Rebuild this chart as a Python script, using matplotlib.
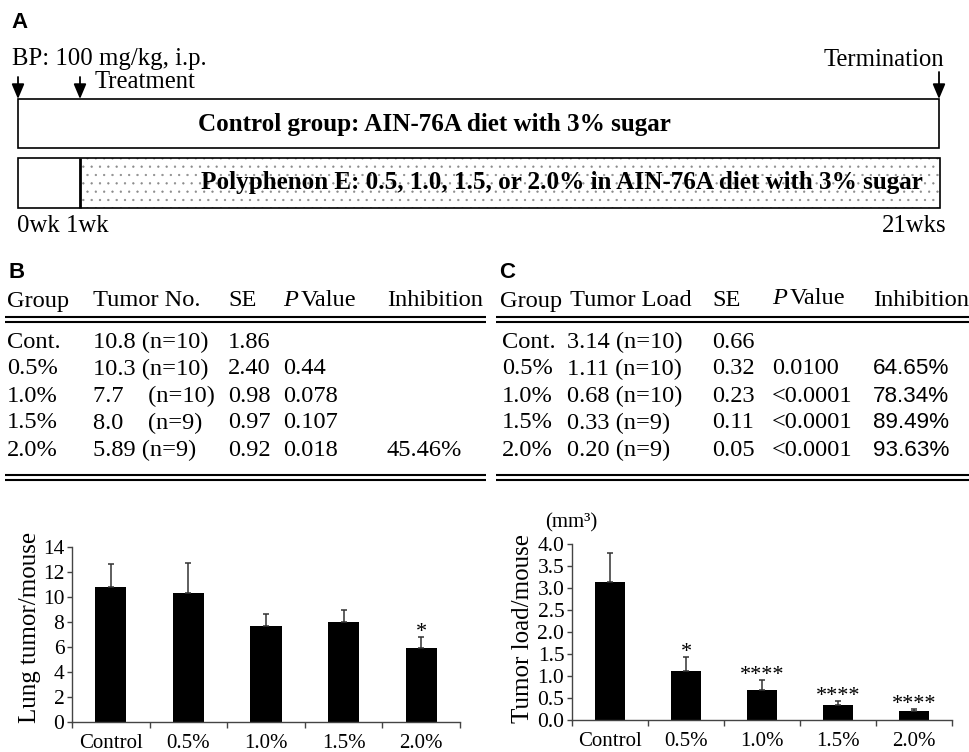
import numpy as np
import matplotlib
matplotlib.use("Agg")
import matplotlib.pyplot as plt
from matplotlib.patches import Rectangle

SERIF = "Liberation Serif"
SANS = "Liberation Sans"

# ---------------- data ----------------
groups = ["Cont.", "0.5%", "1.0%", "1.5%", "2.0%"]
categories = ["Control", "0.5%", "1.0%", "1.5%", "2.0%"]

tumor_no = [10.8, 10.3, 7.7, 8.0, 5.89]
tumor_no_se = [1.86, 2.40, 0.98, 0.97, 0.92]
tumor_no_n = [10, 10, 10, 9, 9]
tumor_no_p = ["", "0.44", "0.078", "0.107", "0.018"]
tumor_no_inhib = ["", "", "", "", "45.46%"]
tumor_no_sig = ["", "", "", "", "*"]

tumor_load = [3.14, 1.11, 0.68, 0.33, 0.20]
tumor_load_se = [0.66, 0.32, 0.23, 0.11, 0.05]
tumor_load_n = [10, 10, 10, 9, 9]
tumor_load_p = ["", "0.0100", "<0.0001", "<0.0001", "<0.0001"]
tumor_load_inhib = ["", "64.65%", "78.34%", "89.49%", "93.63%"]
tumor_load_sig = ["", "*", "****", "****", "****"]

tumor_no_yticks = [0, 2, 4, 6, 8, 10, 12, 14]
tumor_load_yticks = [0.0, 0.5, 1.0, 1.5, 2.0, 2.5, 3.0, 3.5, 4.0]

header_B = ["Group", "Tumor No.", "SE", "P", "Value", "Inhibition"]
header_C = ["Group", "Tumor Load", "SE", "P", "Value", "Inhibition"]

control_text = "Control group: AIN-76A diet with 3% sugar"
treat_text = "Polyphenon E: 0.5, 1.0, 1.5, or 2.0% in AIN-76A diet with 3% sugar"

# ---------------- figure ----------------
plt.rcParams["hatch.linewidth"] = 0.4
W, H = 970, 752
fig = plt.figure(figsize=(W / 100, H / 100), dpi=100)
ov = fig.add_axes([0, 0, 1, 1])
ov.set_xlim(0, W)
ov.set_ylim(H, 0)
ov.axis("off")

FS = 17.8   # panel A text
TFS = 17.6  # table text


def panel_letter(x, y, s):
    ov.text(x, y, s, family=SANS, weight="bold", fontsize=16, ha="left", va="center")


# ---------- Panel A ----------
panel_letter(11, 22, "A")
ov.text(12, 59, "BP: 100 mg/kg, i.p.", family=SERIF, fontsize=FS, ha="left", va="center")
ov.text(95, 82, "Treatment", family=SERIF, fontsize=FS, ha="left", va="center")
ov.text(944, 60, "Termination", family=SERIF, fontsize=FS, ha="right", va="center")

arrow_kw = dict(arrowstyle="-|>,head_length=0.9,head_width=0.38", color="black",
                lw=1.3, shrinkA=0, shrinkB=0)
ov.annotate("", xy=(18, 99), xytext=(18, 77), arrowprops=arrow_kw)
ov.annotate("", xy=(80, 99), xytext=(80, 77), arrowprops=arrow_kw)
ov.annotate("", xy=(939, 99), xytext=(939, 72), arrowprops=arrow_kw)

# control box
ov.add_patch(Rectangle((18, 99), 921, 49, fill=False, edgecolor="black", lw=1.2))
ov.text(434, 124, control_text, family=SERIF, weight="bold", fontsize=18.1,
        ha="center", va="center")

# treatment box
ov.add_patch(Rectangle((80, 158), 860, 50, facecolor="white", edgecolor="#8a8a8a",
                       lw=0, hatch=".."))
ov.add_patch(Rectangle((18, 158), 922, 50, fill=False, edgecolor="black", lw=1.2))
ov.plot([80, 80], [158, 208], color="black", lw=2.0, solid_capstyle="butt")
ov.text(562, 183, treat_text, family=SERIF, weight="bold", fontsize=18.1,
        ha="center", va="center")

ov.text(17, 226, "0wk 1wk", family=SERIF, fontsize=FS, ha="left", va="center")
ov.text(947, 226, "21wks", family=SERIF, fontsize=FS, ha="right", va="center")

# ---------- Tables ----------
row_y0, row_step = 342, 27
hdr_y = 301


def draw_table(x0, x1, hcols, cols, header, values, ns, ses, ps, inhibs, inhib_font, pshift):
    kw = dict(family=SERIF, fontsize=TFS, ha="left", va="center")
    ov.text(hcols[0], hdr_y, header[0], **kw)
    ov.text(hcols[1], hdr_y, header[1], **kw)
    ov.text(hcols[2], hdr_y, header[2], **kw)
    ov.text(hcols[3], hdr_y - pshift, header[3], style="italic", **kw)
    ov.text(hcols[3] + 18, hdr_y - pshift, header[4], **kw)
    ov.text(hcols[4], hdr_y, header[5], **kw)
    ov.hlines([317, 321.5], x0, x1, color="black", lw=1.5)
    for i, g in enumerate(groups):
        y = row_y0 + i * row_step
        ov.text(cols[0], y, g, **kw)
        num = values[i]
        sep = "    " if len(num) < 4 else " "
        ov.text(cols[1], y, f"{num}{sep}(n={ns[i]})", **kw)
        ov.text(cols[2], y, f"{ses[i]:.2f}", **kw)
        ov.text(cols[3], y, ps[i], **kw)
        if inhib_font == SERIF:
            ov.text(cols[4], y, inhibs[i], **kw)
        else:
            ov.text(cols[4], y, inhibs[i], family=SANS, fontsize=16.2, ha="left", va="center")
    ov.hlines([475, 479.5], x0, x1, color="black", lw=1.5)


panel_letter(9, 273, "B")
draw_table(5, 486, [7, 93, 228, 283, 387], [7, 93, 228, 283, 387], header_B,
           [str(v) for v in tumor_no], tumor_no_n, tumor_no_se, tumor_no_p,
           tumor_no_inhib, SERIF, 0)

panel_letter(499, 273, "C")
draw_table(496, 970, [500, 570, 712, 772, 873], [502, 567, 712, 772, 873], header_C,
           [f"{v:.2f}" for v in tumor_load], tumor_load_n, tumor_load_se, tumor_load_p,
           tumor_load_inhib, SANS, 3)

# ---------- Bar charts ----------
x = np.arange(len(categories))


def bar_chart(rect, vals, ses, sigs, yticks, fmt, ylabel, label_x, label_y):
    ax = fig.add_axes(rect)
    ax.set_facecolor("none")
    ax.bar(x, vals, width=0.4, color="black", zorder=2)
    ax.errorbar(x, vals, yerr=[np.zeros(len(vals)), ses], fmt="none", ecolor="#333333",
                elinewidth=1.1, capsize=2.5, capthick=1.1, zorder=3)
    for xi, v, s, sg in zip(x, vals, ses, sigs):
        if sg:
            ax.annotate(sg, (xi, v + s), xytext=(0, 0), textcoords="offset points",
                        ha="center", va="baseline", family=SERIF, fontsize=16)
    ax.set_xlim(-0.5, len(categories) - 0.5)
    ax.set_ylim(yticks[0], yticks[-1])
    ax.set_yticks(yticks)
    ax.set_yticklabels([fmt.format(t) for t in yticks], family=SERIF, fontsize=15.5)
    ax.set_xticks(x)
    ax.set_xticklabels(categories, family=SERIF, fontsize=15)
    ax.set_xticks(np.arange(-0.5, len(categories)), minor=True)
    ax.tick_params(axis="x", which="major", length=0, pad=9)
    ax.tick_params(axis="x", which="minor", length=4, width=1, direction="out", color="#444444")
    ax.tick_params(axis="y", length=3.5, width=1, pad=2, direction="out", color="#444444")
    for side in ("top", "right"):
        ax.spines[side].set_visible(False)
    for side in ("left", "bottom"):
        ax.spines[side].set_color("#444444")
        ax.spines[side].set_linewidth(1.0)
    ax.set_ylabel(ylabel, family=SERIF, fontsize=18)
    ax.yaxis.set_label_coords(label_x, label_y)
    return ax


axB = bar_chart([72 / W, (H - 722) / H, 388 / W, 175 / H], tumor_no, tumor_no_se,
                tumor_no_sig, tumor_no_yticks, "{:g}", "Lung tumor/mouse", -0.08, 0.54)
axC = bar_chart([572 / W, (H - 720) / H, 380 / W, 176 / H], tumor_load, tumor_load_se,
                tumor_load_sig, tumor_load_yticks, "{:.1f}", "Tumor load/mouse", -0.101, 0.52)
axC.text(-0.003, 1.12, "(mm³)", transform=axC.transAxes, family=SERIF, fontsize=15,
         ha="center", va="center")

fig.savefig("out.png", dpi=100)
